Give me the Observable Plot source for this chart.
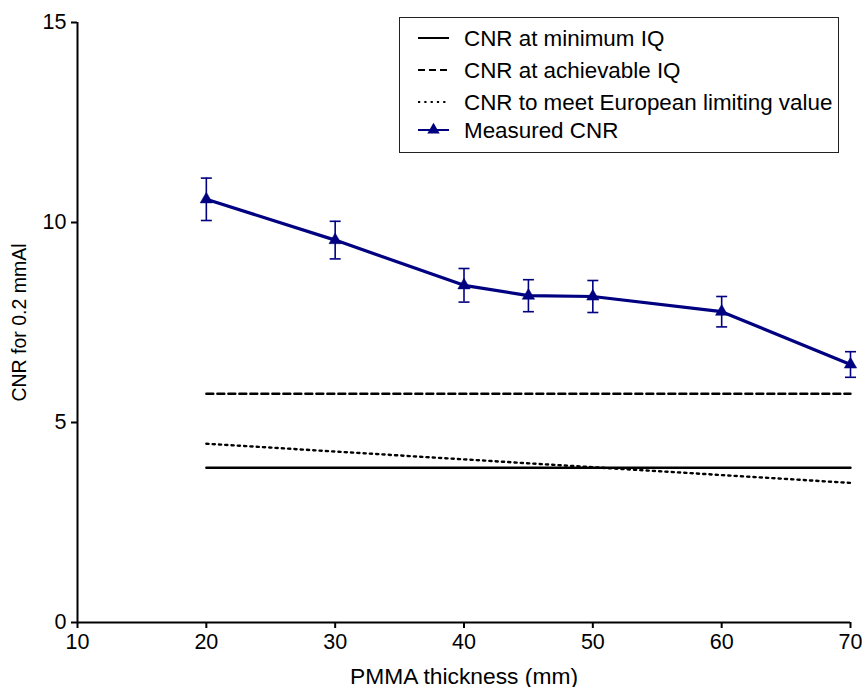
<!DOCTYPE html>
<html><head><meta charset="utf-8">
<script src="https://cdn.jsdelivr.net/npm/d3@7"></script>
<script src="https://cdn.jsdelivr.net/npm/@observablehq/plot@0.6"></script>
<style>
body{margin:0;background:#fff;font-family:"Liberation Sans",Arial,sans-serif;}
#wrap{position:relative;width:862px;height:687px;}
#legend{position:absolute;left:399px;top:17px;}
</style></head><body><div id="wrap"><div id="legend"></div></div>
<script>
// ---- data ----
const thickness = [20, 30, 40, 45, 50, 60, 70];
const measuredCNR = [10.58, 9.56, 8.43, 8.17, 8.15, 7.77, 6.45];
const measuredErr = [0.53, 0.47, 0.42, 0.40, 0.40, 0.38, 0.32];
const refX = [20, 70];
const cnrMinimumIQ = [3.87, 3.87];
const cnrAchievableIQ = [5.72, 5.72];
const cnrEuropeanLimit = [4.47, 3.49];
const xTicks = [10, 20, 30, 40, 50, 60, 70];
const yTicks = [0, 5, 10, 15];
const seriesNames = ["CNR at minimum IQ", "CNR at achievable IQ", "CNR to meet European limiting value", "Measured CNR"];
const xLabel = "PMMA thickness (mm)";
const yLabel = "CNR for 0.2 mmAl";

const navy = "#000080";
const measured = thickness.map((x, i) => ({x, y: measuredCNR[i], lo: measuredCNR[i] - measuredErr[i], hi: measuredCNR[i] + measuredErr[i]}));
const ref = (vals) => refX.map((x, i) => ({x, y: vals[i]}));
const capSymbol = {draw(ctx, size) { const r = Math.sqrt(size / Math.PI); ctx.moveTo(-r, 0); ctx.lineTo(r, 0); }};

const chart = Plot.plot({
  width: 862, height: 687,
  marginLeft: 77, marginRight: 12, marginTop: 22, marginBottom: 65,
  style: {fontFamily: "'Liberation Sans', Arial, sans-serif", fontSize: "21px", color: "black", background: "white"},
  x: {domain: [10, 70]},
  y: {domain: [0, 15]},
  marks: [
    Plot.axisX({ticks: xTicks, tickSize: 6, tickPadding: 5, fontSize: 21.5, strokeWidth: 2, label: null}),
    Plot.axisX({ticks: [], label: xLabel, labelAnchor: "center", labelArrow: "none", fontSize: 22.8, labelOffset: 61}),
    Plot.axisY({ticks: yTicks, tickSize: 6, tickPadding: 5, fontSize: 21.5, strokeWidth: 2, label: null}),
    Plot.axisY({ticks: [], label: yLabel, labelAnchor: "center", labelArrow: "none", fontSize: 19.5, labelOffset: 65}),
    Plot.ruleX([10], {strokeWidth: 2}),
    Plot.ruleY([0], {strokeWidth: 2}),
    Plot.line(ref(cnrMinimumIQ), {x: "x", y: "y", stroke: "black", strokeWidth: 2.4}),
    Plot.line(ref(cnrAchievableIQ), {x: "x", y: "y", stroke: "black", strokeWidth: 2.4, strokeDasharray: "7,4"}),
    Plot.line(ref(cnrEuropeanLimit), {x: "x", y: "y", stroke: "black", strokeWidth: 2.4, strokeDasharray: "2.2,4.1"}),
    Plot.ruleX(measured, {x: "x", y1: "lo", y2: "hi", stroke: navy, strokeWidth: 1.6}),
    Plot.dot(measured, {x: "x", y: "hi", symbol: capSymbol, r: 5.5, stroke: navy, strokeWidth: 1.6, fill: "none"}),
    Plot.dot(measured, {x: "x", y: "lo", symbol: capSymbol, r: 5.5, stroke: navy, strokeWidth: 1.6, fill: "none"}),
    Plot.line(measured, {x: "x", y: "y", stroke: navy, strokeWidth: 3.2}),
    Plot.dot(measured, {x: "x", y: "y", symbol: "triangle", r: 4.6, fill: navy, stroke: navy, strokeWidth: 0.5})
  ]
});
document.getElementById("wrap").prepend(chart);

// ---- legend ----
const lw = 439, lh = 135;
const svg = d3.select("#legend").append("svg").attr("width", lw + 1).attr("height", lh + 1)
  .style("font-family", "'Liberation Sans', Arial, sans-serif");
svg.append("rect").attr("x", 0.5).attr("y", 0.5).attr("width", lw).attr("height", lh)
  .attr("fill", "white").attr("stroke", "#222").attr("stroke-width", 1);
const rowsY = [21, 53, 85, 113];
const styles = [
  {stroke: "black", dash: null, w: 2},
  {stroke: "black", dash: "7,4", w: 2},
  {stroke: "black", dash: "2.2,4.1", w: 2},
  {stroke: navy, dash: null, w: 2}
];
seriesNames.forEach((name, i) => {
  const g = svg.append("g");
  const s = styles[i];
  g.append("line").attr("x1", 19).attr("x2", 50).attr("y1", rowsY[i]).attr("y2", rowsY[i])
    .attr("stroke", s.stroke).attr("stroke-width", s.w).attr("stroke-dasharray", s.dash);
  if (i === 3) {
    g.append("path").attr("d", d3.symbol(d3.symbolTriangle, Math.PI * 4.6 * 4.6)())
      .attr("transform", `translate(34.5,${rowsY[i]})`).attr("fill", navy);
  }
  g.append("text").attr("x", 65).attr("y", rowsY[i]).attr("dy", "0.36em")
    .attr("font-size", 22.4).attr("fill", "black").text(name);
});
</script>
</body></html>
